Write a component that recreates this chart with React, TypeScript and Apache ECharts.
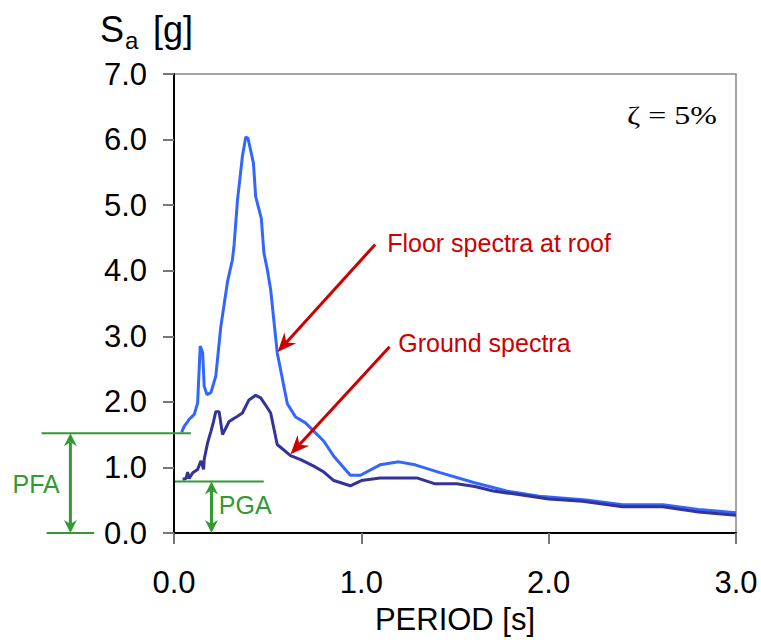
import React, { useEffect, useRef } from "react";
import * as echarts from "echarts";

const floorPeriod = [0.041, 0.055, 0.073, 0.08, 0.108, 0.126, 0.14, 0.153, 0.161, 0.176, 0.197, 0.223, 0.25, 0.286, 0.312, 0.321, 0.339, 0.365, 0.383, 0.395, 0.424, 0.436, 0.466, 0.48, 0.498, 0.516, 0.551, 0.605, 0.649, 0.702, 0.8, 0.853, 0.941, 0.995, 1.1, 1.2, 1.287, 1.42, 1.6, 1.775, 1.95, 2.2, 2.395, 2.61, 2.8, 3.0];
const floorSa = [1.54, 1.63, 1.7, 1.73, 1.81, 1.98, 2.85, 2.75, 2.24, 2.11, 2.14, 2.39, 3.15, 3.84, 4.17, 4.4, 5.08, 5.74, 6.04, 6.02, 5.64, 5.13, 4.8, 4.27, 4.02, 3.71, 2.75, 1.97, 1.77, 1.68, 1.4, 1.17, 0.88, 0.88, 1.04, 1.085, 1.04, 0.92, 0.77, 0.64, 0.56, 0.505, 0.43, 0.43, 0.36, 0.31];

const groundPeriod = [0.046, 0.064, 0.073, 0.081, 0.1, 0.126, 0.144, 0.158, 0.161, 0.179, 0.197, 0.211, 0.223, 0.241, 0.259, 0.294, 0.339, 0.365, 0.4, 0.436, 0.463, 0.498, 0.516, 0.551, 0.622, 0.676, 0.746, 0.8, 0.853, 0.941, 1.0, 1.1, 1.296, 1.394, 1.509, 1.606, 1.704, 1.83, 2.0, 2.18, 2.395, 2.61, 2.8, 3.0];
const groundSa = [0.82, 0.83, 0.93, 0.83, 0.92, 0.97, 1.1, 0.97, 1.12, 1.37, 1.55, 1.7, 1.85, 1.85, 1.5, 1.7, 1.78, 1.83, 2.03, 2.1, 2.06, 1.91, 1.83, 1.35, 1.18, 1.12, 1.02, 0.93, 0.8, 0.72, 0.8, 0.84, 0.84, 0.75, 0.75, 0.71, 0.64, 0.59, 0.52, 0.485, 0.4, 0.4, 0.32, 0.27];

const PFA = 1.52;
const PGA = 0.785;

const FONT = "'Liberation Sans', Arial, sans-serif";
const RED = "#CC0000";
const GREEN = "#339933";

function arrowHead(tip: number[], tail: number[], L: number, W: number, N: number) {
  const dx = tip[0] - tail[0];
  const dy = tip[1] - tail[1];
  const d = Math.hypot(dx, dy);
  const ux = dx / d, uy = dy / d;
  const nx = -uy, ny = ux;
  const bx = tip[0] - ux * L, by = tip[1] - uy * L;
  const notch = [tip[0] - ux * (L - N), tip[1] - uy * (L - N)];
  return {
    poly: [tip, [bx + nx * W, by + ny * W], notch, [bx - nx * W, by - ny * W]],
    notch,
  };
}

export default function App() {
  const ref = useRef<HTMLDivElement>(null);
  useEffect(() => {
    if (!ref.current) return;
    const chart = echarts.init(ref.current, null, { renderer: "svg" });
    const axisCommon = {
      type: "value" as const,
      splitLine: { show: false },
      axisLine: { show: true, lineStyle: { color: "#000", width: 2 } },
      axisTick: { show: true, inside: false, length: 11, lineStyle: { color: "#777", width: 2 } },
      axisLabel: {
        color: "#000",
        fontSize: 31,
        fontFamily: FONT,
        formatter: (v: number) => v.toFixed(1),
      },
    };
    chart.setOption({
      animation: false,
      backgroundColor: "#fff",
      grid: {
        left: 174,
        right: 25,
        top: 74,
        bottom: 106.5,
        show: true,
        borderColor: "#888",
        borderWidth: 1.5,
      },
      xAxis: {
        ...axisCommon,
        min: 0,
        max: 3,
        interval: 1,
        axisLabel: { ...axisCommon.axisLabel, margin: 34 },
        name: "PERIOD [s]",
        nameLocation: "middle",
        nameGap: 71,
        nameTextStyle: { color: "#000", fontSize: 31, fontFamily: FONT },
      },
      yAxis: {
        ...axisCommon,
        min: 0,
        max: 7,
        interval: 1,
        axisLabel: { ...axisCommon.axisLabel, margin: 27 },
      },
      series: [
        {
          type: "line",
          name: "Floor",
          data: floorPeriod.map((t, i) => [t, floorSa[i]]),
          showSymbol: false,
          symbol: "none",
          lineStyle: { color: "#3366FF", width: 3 },
          z: 2,
        },
        {
          type: "line",
          name: "Ground",
          data: groundPeriod.map((t, i) => [t, groundSa[i]]),
          showSymbol: false,
          symbol: "none",
          lineStyle: { color: "#333399", width: 3 },
          z: 3,
        },
      ],
    });

    const px = (t: number, s: number) => chart.convertToPixel({ gridIndex: 0 }, [t, s]) as number[];
    const g: any[] = [];

    const redArrow = (from: number[], to: number[]) => {
      const a = px(from[0], from[1]);
      const b = px(to[0], to[1]);
      const h = arrowHead(b, a, 19, 8, 6);
      g.push({ type: "line", shape: { x1: a[0], y1: a[1], x2: h.notch[0], y2: h.notch[1] }, style: { stroke: RED, lineWidth: 3 }, z: 10 });
      g.push({ type: "polygon", shape: { points: h.poly }, style: { fill: RED }, z: 10 });
    };
    redArrow([1.074, 4.4], [0.553, 2.76]);
    redArrow([1.151, 2.84], [0.622, 1.2]);

    const p1 = px(1.138, 4.43);
    g.push({ type: "text", x: p1[0], y: p1[1], style: { text: "Floor spectra at roof", fill: RED, fontSize: 25, fontFamily: FONT, align: "left", verticalAlign: "middle" }, z: 10 });
    const p2 = px(1.197, 2.9);
    g.push({ type: "text", x: p2[0], y: p2[1], style: { text: "Ground spectra", fill: RED, fontSize: 25, fontFamily: FONT, align: "left", verticalAlign: "middle" }, z: 10 });

    const hline = (t1: number, t2: number, s: number) => {
      const a = px(t1, s), b = px(t2, s);
      g.push({ type: "line", shape: { x1: a[0], y1: a[1], x2: b[0], y2: b[1] }, style: { stroke: GREEN, lineWidth: 2 }, z: 10 });
    };
    const dblArrow = (t: number, s1: number, s2: number) => {
      const a = px(t, s1), b = px(t, s2);
      const h1 = arrowHead(a, b, 13, 6.5, 4);
      const h2 = arrowHead(b, a, 13, 6.5, 4);
      g.push({ type: "line", shape: { x1: h1.notch[0], y1: h1.notch[1], x2: h2.notch[0], y2: h2.notch[1] }, style: { stroke: GREEN, lineWidth: 3 }, z: 10 });
      g.push({ type: "polygon", shape: { points: h1.poly }, style: { fill: GREEN }, z: 10 });
      g.push({ type: "polygon", shape: { points: h2.poly }, style: { fill: GREEN }, z: 10 });
    };
    hline(-0.707, 0.09, PFA);
    hline(-0.68, -0.426, 0);
    dblArrow(-0.553, 0, PFA);
    hline(0.005, 0.479, PGA);
    dblArrow(0.2, 0, PGA);
    const pfa = px(-0.862, 0.74);
    g.push({ type: "text", x: pfa[0], y: pfa[1], style: { text: "PFA", fill: GREEN, fontSize: 25, fontFamily: FONT, align: "left", verticalAlign: "middle" }, z: 10 });
    const pga = px(0.239, 0.42);
    g.push({ type: "text", x: pga[0], y: pga[1], style: { text: "PGA", fill: GREEN, fontSize: 25, fontFamily: FONT, align: "left", verticalAlign: "middle" }, z: 10 });

    // zeta label
    g.push({ type: "text", x: 627, y: 115, scaleX: 1.28, style: { text: "ζ = 5%", fill: "#000", fontSize: 25, fontFamily: "'Liberation Serif', 'Times New Roman', serif", align: "left", verticalAlign: "middle" }, z: 10 });

    // Y axis title Sa [g]
    g.push({ type: "text", x: 100, y: 29, style: { text: "S", fill: "#000", fontSize: 36, fontFamily: FONT, align: "left", verticalAlign: "middle" }, z: 10 });
    g.push({ type: "text", x: 125, y: 40, style: { text: "a", fill: "#000", fontSize: 24, fontFamily: FONT, align: "left", verticalAlign: "middle" }, z: 10 });
    g.push({ type: "text", x: 153, y: 29, style: { text: "[g]", fill: "#000", fontSize: 36, fontFamily: FONT, align: "left", verticalAlign: "middle" }, z: 10 });

    chart.setOption({ graphic: g });
    return () => chart.dispose();
  }, []);
  return (
    <div
      ref={ref}
      style={{ position: "absolute", left: 0, top: 0, width: 761, height: 640, background: "#fff" }}
    />
  );
}
